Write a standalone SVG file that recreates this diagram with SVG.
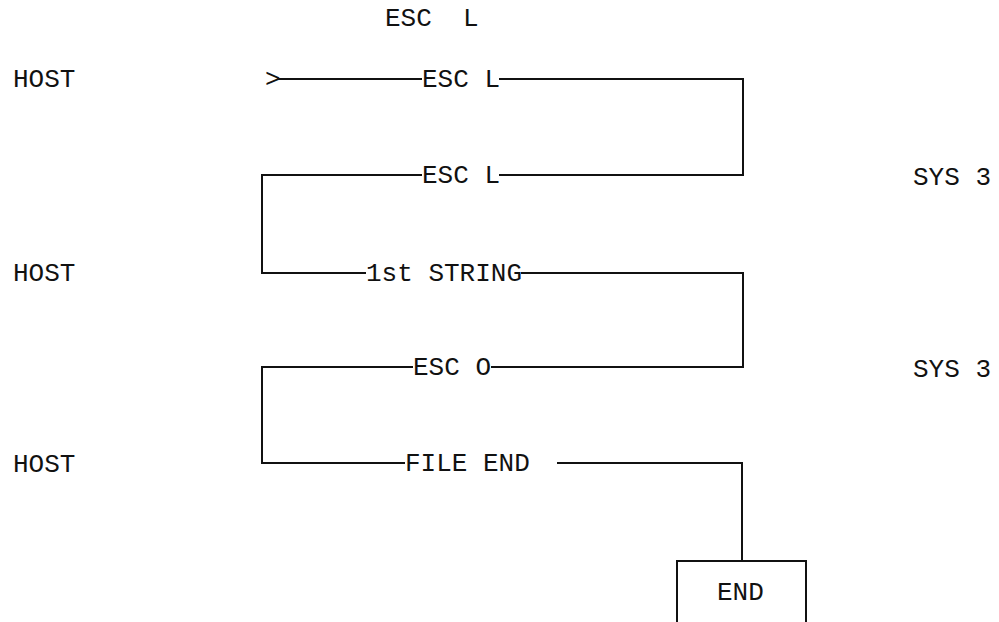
<svg xmlns="http://www.w3.org/2000/svg" width="999" height="622" viewBox="0 0 999 622">
<style>
text{font-family:"Liberation Mono","Courier New",monospace;font-size:26px;fill:#111;}
.ln{stroke:#111;stroke-width:2;fill:none;}
</style>
<rect width="999" height="622" fill="#fff"/>
<g id="title"><text x="385" y="26" xml:space="preserve">ESC  L</text></g>
<g id="host1"><text x="13" y="87">HOST</text></g>
<g id="host2"><text x="13" y="281">HOST</text></g>
<g id="host3"><text x="13" y="472">HOST</text></g>
<g id="sys1"><text x="913" y="185">SYS 3</text></g>
<g id="sys2"><text x="913" y="377">SYS 3</text></g>
<g id="connectors">
<text x="265" y="87">&gt;</text>
<path class="ln" d="M278 79H422M499 79H743V175H499M422 175H262V273H366M521 273H743V367H491M413 367H262V463H405M557 463H742V560"/>
</g>
<g id="l1"><text x="422" y="87">ESC L</text></g>
<g id="l2"><text x="422" y="183">ESC L</text></g>
<g id="l3"><text x="366" y="281">1st STRING</text></g>
<g id="l4"><text x="413" y="375">ESC O</text></g>
<g id="l5"><text x="405" y="471">FILE END</text></g>
<g id="end">
<path class="ln" d="M677 630V561H806V630"/>
<text x="717" y="600">END</text>
</g>
</svg>
